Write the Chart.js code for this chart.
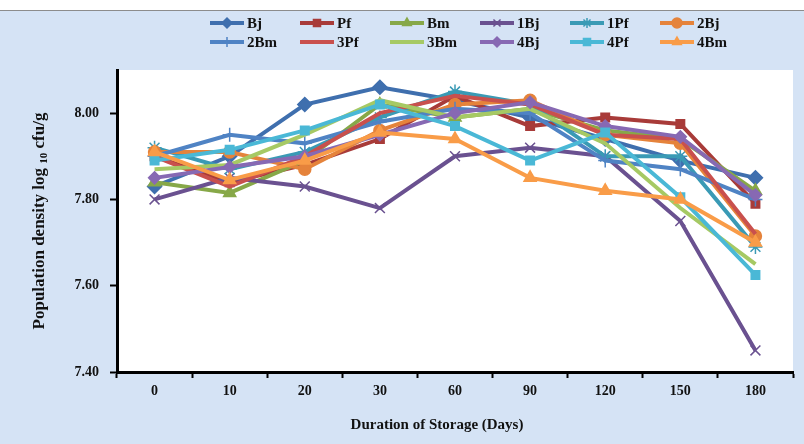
<!DOCTYPE html>
<html>
<head>
<meta charset="utf-8">
<script src="https://cdn.jsdelivr.net/npm/chart.js"></script>
<style>
  html, body { margin: 0; padding: 0; background: #fff; }
  #wrap { width: 804px; height: 444px; }
</style>
</head>
<body>
<div id="wrap"><canvas id="storageChart" width="804" height="444"></canvas></div>
<script>
// storage days on x, log10 cfu/g on y
var days = ["0", "10", "20", "30", "60", "90", "120", "150", "180"];
var yTicks = [7.40, 7.60, 7.80, 8.00];

var bj    = [7.83, 7.90, 8.02, 8.06, 8.03, 7.99, 7.94, 7.89, 7.85];
var pf    = [7.90, 7.84, 7.88, 7.94, 8.04, 7.97, 7.99, 7.975, 7.79];
var bm    = [7.84, 7.815, 7.89, 8.02, 7.99, 8.01, 7.96, 7.94, 7.82];
var bj1   = [7.80, 7.85, 7.83, 7.78, 7.90, 7.92, 7.90, 7.75, 7.45];
var pf1   = [7.92, 7.87, 7.91, 7.99, 8.05, 8.02, 7.90, 7.90, 7.69];
var bj2   = [7.91, 7.91, 7.87, 7.96, 8.02, 8.03, 7.95, 7.93, 7.715];
var bm2   = [7.90, 7.95, 7.93, 7.98, 8.01, 8.00, 7.89, 7.87, 7.80];
var pf3   = [7.90, 7.83, 7.90, 8.00, 8.04, 8.02, 7.95, 7.94, 7.72];
var bm3   = [7.87, 7.88, 7.95, 8.03, 7.99, 8.01, 7.93, 7.78, 7.65];
var bj4   = [7.85, 7.875, 7.90, 7.95, 8.00, 8.025, 7.97, 7.945, 7.81];
var pf4   = [7.89, 7.915, 7.96, 8.02, 7.97, 7.89, 7.955, 7.805, 7.625];
var bm4   = [7.91, 7.845, 7.89, 7.955, 7.94, 7.85, 7.82, 7.80, 7.70];

var serif = "'Liberation Serif', 'Times New Roman', serif";

function series(label, data, color, style, radius) {
  return {
    label: label,
    data: data,
    borderColor: color,
    backgroundColor: color,
    pointBackgroundColor: color,
    pointBorderColor: color,
    pointStyle: style || false,
    pointRadius: style ? radius : 0,
    pointBorderWidth: 1.5,
    borderWidth: 4,
    tension: 0
  };
}

var sets = [
  series("Bj",  bj,  "#3f6fae", "rectRot", 7),
  series("Pf",  pf,  "#a83b39", "rect", 6),
  series("Bm",  bm,  "#87a848", "triangle", 7),
  series("1Bj", bj1, "#6a5190", "crossRot", 7),
  series("1Pf", pf1, "#3a9ab5", "star", 7),
  series("2Bj", bj2, "#e5833b", "circle", 6),
  series("2Bm", bm2, "#4f83c4", "cross", 7),
  series("3Pf", pf3, "#c9504d", null, 0),
  series("3Bm", bm3, "#a6c964", null, 0),
  series("4Bj", bj4, "#8769b3", "rectRot", 6),
  series("4Pf", pf4, "#4ab8d6", "rect", 6),
  series("4Bm", bm4, "#f99c48", "triangle", 7)
];
// later series sit on top, as in the original
sets.forEach(function (d, i) { d.order = sets.length - i; });

function marker(ctx, style, x, y, r, color) {
  ctx.save();
  ctx.fillStyle = color;
  ctx.strokeStyle = color;
  ctx.lineWidth = 1.5;
  if (Chart.helpers && Chart.helpers.drawPoint) {
    Chart.helpers.drawPoint(ctx, { pointStyle: style, radius: r, rotation: 0, borderWidth: 1.5 }, x, y);
  }
  ctx.restore();
}

var decor = {
  id: "decor",
  beforeDraw: function (chart) {
    var ctx = chart.ctx, a = chart.chartArea;
    ctx.save();
    ctx.fillStyle = "#ffffff";
    ctx.fillRect(0, 0, chart.width, chart.height);
    ctx.fillStyle = "#d5e3f5";
    ctx.fillRect(0, 10, chart.width, chart.height - 10);
    ctx.strokeStyle = "#8c8c8c";
    ctx.lineWidth = 1;
    ctx.beginPath();
    ctx.moveTo(0, 10.5);
    ctx.lineTo(chart.width, 10.5);
    ctx.stroke();
    ctx.fillStyle = "#ffffff";
    ctx.fillRect(a.left, a.top, a.right - a.left, a.bottom - a.top);
    ctx.restore();
  },
  afterDraw: function (chart) {
    var ctx = chart.ctx;
    ctx.save();
    // legend, 6 columns x 2 rows
    sets.forEach(function (d, i) {
      var col = i % 6, row = Math.floor(i / 6);
      var x0 = 210 + col * 90, y = 23 + row * 19;
      ctx.strokeStyle = d.borderColor;
      ctx.lineWidth = 4;
      ctx.beginPath();
      ctx.moveTo(x0, y);
      ctx.lineTo(x0 + 34, y);
      ctx.stroke();
      if (d.pointStyle) marker(ctx, d.pointStyle, x0 + 17, y, 5, d.borderColor);
      ctx.fillStyle = "#111";
      ctx.font = "bold 15px " + serif;
      ctx.textAlign = "left";
      ctx.textBaseline = "middle";
      ctx.fillText(d.label, x0 + 37, y + 1);
    });

    // x axis title
    ctx.fillStyle = "#111";
    ctx.font = "bold 15px " + serif;
    ctx.textAlign = "center";
    ctx.textBaseline = "middle";
    ctx.fillText("Duration of Storage (Days)", 437, 425);

    // y axis title with subscript
    var parts = [
      { t: "Population density log ", f: "bold 17px " + serif, dy: 0 },
      { t: "10", f: "bold 11px " + serif, dy: 4 },
      { t: " cfu/g", f: "bold 17px " + serif, dy: 0 }
    ];
    var total = 0;
    parts.forEach(function (p) { ctx.font = p.f; p.w = ctx.measureText(p.t).width; total += p.w; });
    ctx.translate(40, 221);
    ctx.rotate(-Math.PI / 2);
    ctx.textAlign = "left";
    var x = -total / 2;
    parts.forEach(function (p) {
      ctx.font = p.f;
      ctx.fillText(p.t, x, p.dy);
      x += p.w;
    });
    ctx.restore();
  }
};

new Chart(document.getElementById("storageChart"), {
  type: "line",
  data: { labels: days, datasets: sets },
  plugins: [decor],
  options: {
    responsive: false,
    animation: false,
    layout: { padding: { top: 70, right: 11, left: 0, bottom: 0 } },
    plugins: { legend: { display: false }, tooltip: { enabled: false } },
    scales: {
      x: {
        offset: true,
        afterFit: function (s) { s.height = 72; },
        grid: { offset: true, drawOnChartArea: false, color: "#000", tickLength: 6, tickWidth: 2 },
        border: { color: "#000", width: 3 },
        ticks: { color: "#111", padding: 5, font: { family: serif, size: 14, weight: "bold" } }
      },
      y: {
        min: 7.4,
        max: 8.1,
        afterFit: function (s) { s.width = 117; },
        afterBuildTicks: function (s) { s.ticks = yTicks.map(function (v) { return { value: v }; }); },
        grid: { drawOnChartArea: false, color: "#000", tickLength: 7, tickWidth: 2 },
        border: { color: "#000", width: 3 },
        ticks: {
          color: "#111",
          padding: 11,
          font: { family: serif, size: 14, weight: "bold" },
          callback: function (v) { return Number(v).toFixed(2); }
        }
      }
    }
  }
});
</script>
</body>
</html>
